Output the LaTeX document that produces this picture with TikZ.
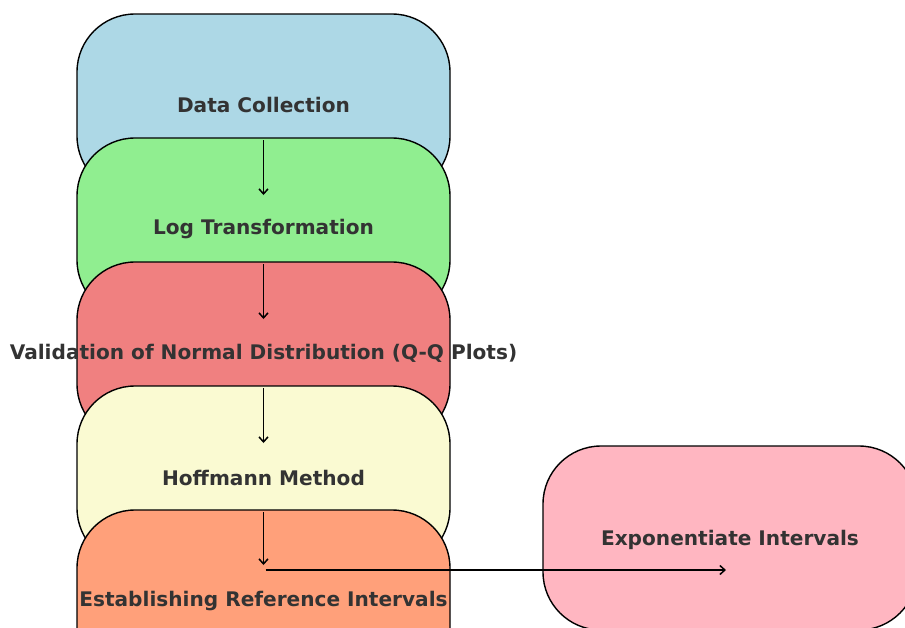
\documentclass[tikz,border=0pt]{standalone}
\usepackage{fontspec}
\setmainfont{DejaVu Sans}
\usetikzlibrary{arrows.meta,calc}
\definecolor{txt}{HTML}{333333}
\definecolor{cblue}{HTML}{ADD8E6}
\definecolor{cgreen}{HTML}{90EE90}
\definecolor{ccoral}{HTML}{F08080}
\definecolor{cyellow}{HTML}{FAFAD2}
\definecolor{csalmon}{HTML}{FFA07A}
\definecolor{cpink}{HTML}{FFB6C1}
\tikzset{
  stagebox/.style={draw=black, line width=1.4pt, rounded corners=58pt,
    minimum width=373pt, minimum height=180pt, inner sep=0pt},
  stagetext/.style={text=txt, font=\fontsize{20.1}{22}\selectfont\bfseries, inner sep=0pt, yshift=-1.5pt},
  arr/.style={line width=1.5pt, -{Straight Barb[length=5pt,width=9pt,line width=1.5pt]}}
}
\begin{document}
\begin{tikzpicture}[x=1pt,y=-1pt]
\useasboundingbox (0,0) rectangle (905,627);
\clip (0,0) rectangle (905,627);
\node[stagebox, fill=cblue] (b1) at (263.5,104) {};
\node[stagetext] (t1) at (b1.center) {Data Collection};
\node[stagebox, fill=cgreen] (b2) at (263.5,228) {};
\node[stagetext] (t2) at (b2.center) {Log Transformation};
\node[stagebox, fill=ccoral] (b3) at (263.5,352) {};
\node[stagetext] (t3) at (b3.center) {Validation of Normal Distribution (Q-Q Plots)};
\node[stagebox, fill=cyellow] (b4) at (263.5,476) {};
\node[stagetext] (t4) at (b4.center) {Hoffmann Method};
\node[stagebox, fill=csalmon] (b5) at (263.5,600) {};
\node[stagetext] (t5) at (b5.center) {Establishing Reference Intervals};
\node[stagebox, fill=cpink, minimum width=374pt, minimum height=184pt] (b6) at (730,538) {};
\node[stagetext] (t6) at (b6.center) {Exponentiate Intervals};
\draw[arr] ($(b1.center)+(0,36)$) -- ($(b2.center)+(0,-33)$);
\draw[arr] ($(b2.center)+(0,36)$) -- ($(b3.center)+(0,-33)$);
\draw[arr] ($(b3.center)+(0,36)$) -- ($(b4.center)+(0,-33)$);
\draw[arr] ($(b4.center)+(0,36)$) -- ($(b5.center)+(0,-35)$);
\draw[arr] ($(b5.center)+(2,-30)$) -- ($(b6.center)+(-4,32)$);
\end{tikzpicture}
\end{document}
